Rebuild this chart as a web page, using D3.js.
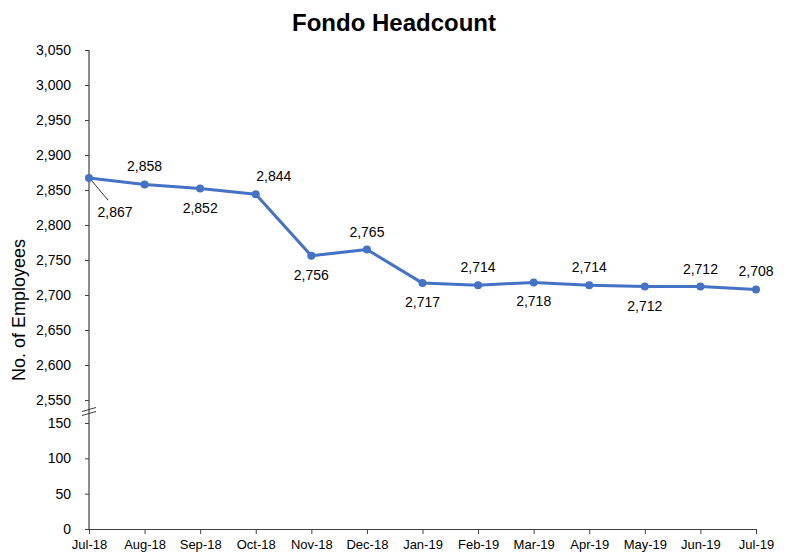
<!DOCTYPE html>
<html>
<head>
<meta charset="utf-8">
<script src="https://cdn.jsdelivr.net/npm/d3@7"></script>
<style>
  body { margin: 0; background: white; }
  text { font-family: "Liberation Sans", Arial, sans-serif; fill: #000; }
</style>
</head>
<body>
<script>
// data
var months = ["Jul-18", "Aug-18", "Sep-18", "Oct-18", "Nov-18", "Dec-18",
              "Jan-19", "Feb-19", "Mar-19", "Apr-19", "May-19", "Jun-19", "Jul-19"];
var headcount = [2867, 2858, 2852, 2844, 2756, 2765, 2717, 2714, 2718, 2714, 2712, 2712, 2708];
var topTicks = [2550, 2600, 2650, 2700, 2750, 2800, 2850, 2900, 2950, 3000, 3050];
var bottomTicks = [0, 50, 100, 150];
// where each data label sits relative to its point
var labelPos = ["leader", "above", "below", "aboveRight", "below", "above",
                "below", "above", "below", "above", "below", "above", "above"];

var width = 791, height = 559;
var svg = d3.select("body").append("svg")
   .attr("width", width)
   .attr("height", height);

var x = d3.scalePoint()
   .domain(months)
   .range([89, 756]);

// broken y axis: upper part and lower part
var yTop = d3.scaleLinear().domain([2550, 3050]).range([400, 50]);
var yBot = d3.scaleLinear().domain([0, 150]).range([529, 423]);

var fmt = d3.format(",");

// title
svg.append("text")
   .attr("x", 394)
   .attr("y", 31)
   .attr("text-anchor", "middle")
   .style("font-size", "24px")
   .style("font-weight", "bold")
   .text("Fondo Headcount");

// y axis title
svg.append("text")
   .attr("transform", "translate(25,310) rotate(-90)")
   .attr("text-anchor", "middle")
   .style("font-size", "18px")
   .text("No. of Employees");

// upper y axis
var gTop = svg.append("g")
   .attr("transform", "translate(89,0)")
   .call(d3.axisLeft(yTop).tickValues(topTicks).tickFormat(fmt).tickSize(4).tickPadding(14));

// lower y axis
var gBot = svg.append("g")
   .attr("transform", "translate(89,0)")
   .call(d3.axisLeft(yBot).tickValues(bottomTicks).tickFormat(fmt).tickSize(4).tickPadding(14));

// join the two axis parts with a single line
[gTop, gBot].forEach(function (g) {
   g.select(".domain").remove();
   g.selectAll("line").attr("stroke", "#404040");
   g.selectAll("text").style("font-size", "14px").style("font-family", "Liberation Sans, Arial, sans-serif");
});
svg.append("line")
   .attr("x1", 89).attr("x2", 89)
   .attr("y1", yTop(3050)).attr("y2", yBot(0))
   .attr("stroke", "#404040")
   .attr("stroke-width", 1.2);

// break marks
var breakY = (yTop(2550) + yBot(150)) / 2;
[-2, 2].forEach(function (d) {
   svg.append("line")
      .attr("x1", 82).attr("x2", 96)
      .attr("y1", breakY + d + 2).attr("y2", breakY + d - 2)
      .attr("stroke", "#404040")
      .attr("stroke-width", 1);
});

// x axis
var gx = svg.append("g")
   .attr("transform", "translate(0," + yBot(0) + ")")
   .call(d3.axisBottom(x).tickSize(5).tickPadding(6).tickSizeOuter(0));
gx.select(".domain").attr("stroke", "#404040").attr("stroke-width", 1.2);
gx.selectAll("line").attr("stroke", "#404040");
gx.selectAll("text").style("font-size", "13px").style("font-family", "Liberation Sans, Arial, sans-serif");

// line
var line = d3.line()
   .x(function (d, i) { return x(months[i]); })
   .y(function (d) { return yTop(d); });

svg.append("path")
   .datum(headcount)
   .attr("d", line)
   .attr("fill", "none")
   .attr("stroke", "#4472C4")
   .attr("stroke-width", 3)
   .attr("stroke-linejoin", "round");

svg.selectAll(".pt")
   .data(headcount)
   .enter()
   .append("circle")
   .attr("class", "pt")
   .attr("cx", function (d, i) { return x(months[i]); })
   .attr("cy", function (d) { return yTop(d); })
   .attr("r", 4)
   .attr("fill", "#4472C4");

// data labels
svg.selectAll(".lbl")
   .data(headcount)
   .enter()
   .append("text")
   .attr("class", "lbl")
   .attr("text-anchor", "middle")
   .style("font-size", "14px")
   .attr("x", function (d, i) {
      var p = labelPos[i];
      if (p == "leader") { return x(months[i]) + 26; }
      if (p == "aboveRight") { return x(months[i]) + 18; }
      return x(months[i]);
   })
   .attr("y", function (d, i) {
      var p = labelPos[i];
      if (p == "leader") { return yTop(d) + 39; }
      if (p == "below") { return yTop(d) + 24; }
      return yTop(d) - 13;
   })
   .text(function (d) { return fmt(d); });

// leader line for first label
svg.append("line")
   .attr("x1", x(months[0]) + 3).attr("y1", yTop(headcount[0]) + 3)
   .attr("x2", x(months[0]) + 19).attr("y2", yTop(headcount[0]) + 22)
   .attr("stroke", "#000")
   .attr("stroke-width", 0.8);
</script>
</body>
</html>
